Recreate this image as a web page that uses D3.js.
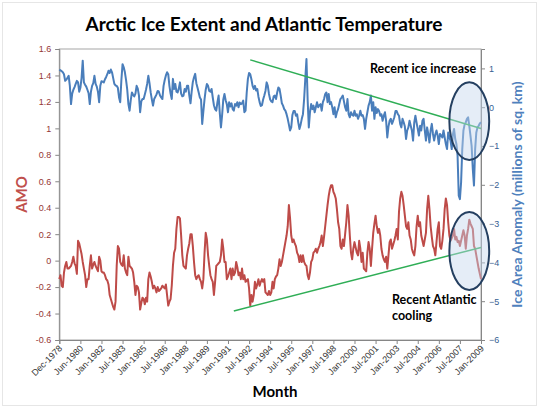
<!DOCTYPE html>
<html>
<head>
<meta charset="utf-8">
<script src="https://cdn.jsdelivr.net/npm/d3@7/dist/d3.min.js"></script>
<style>
    body { margin: 0; background: #fff; }
    #chart svg { font-family: Lato, "Open Sans", sans-serif; display: block; }
</style>
</head>
<body>
<div id="chart"></div>
<script>

// month labels on the category axis (one every 18 months, Dec-1978 .. Jan-2009)
const monthLabels = ['Dec-1978','Jun-1980','Jan-1982','Jul-1983','Jan-1985','Jul-1986','Jan-1988',
    'Jul-1989','Jan-1991','Jul-1992','Jan-1994','Jul-1995','Jan-1997','Jul-1998','Jan-2000',
    'Jul-2001','Jan-2003','Jul-2004','Jan-2006','Jul-2007','Jan-2009'];
const labelStep = 18;

// Ice area anomaly, millions of sq. km (right axis), monthly
const iceAnomaly = [
    0.97, 0.95, 0.93, 0.90, 0.85, 0.68, 0.71, 0.76, 0.81, 0.55,
    0.08, 0.35, 0.45, 0.52, 0.60, 0.68, 0.64, 0.40, 0.50, 0.75,
    1.20, 0.64, 0.58, 0.53, 0.45, 0.36, 0.08, 0.40, 0.55, 0.62,
    0.81, 0.60, 0.53, 0.40, 0.13, 0.55, 0.67, 0.66, 0.64, 0.72,
    0.78, 0.85, 0.94, 0.88, 0.97, 0.90, 0.75, 0.60, 0.56, 0.55,
    0.50, 0.25, 0.13, 0.70, 1.11, 1.03, 0.90, 0.70, 0.45, 0.08,
    -0.09, 0.18, 0.38, 0.32, 0.28, 0.35, 0.55, 0.48, 0.30, -0.13,
    0.15, 0.21, 0.21, 0.33, 0.45, 0.60, 0.81, 0.62, 0.38, 0.20,
    0.04, 0.21, 0.27, 0.33, 0.42, 0.40, 0.30, 0.25, 0.21, 0.55,
    0.70, 0.82, 0.90, 0.85, 0.55, 0.35, 0.21, 0.73, 0.47, 0.60,
    0.40, 0.38, 0.48, 0.64, 0.35, 0.28, 0.30, 0.47, 0.40, 0.55,
    0.55, 0.30, 0.10, 0.40, 0.65, 0.77, 0.86, 0.62, 0.50, 0.38,
    0.25, 0.20, -0.43, -0.10, 0.21, 0.45, 0.60, 0.55, 0.42, 0.40,
    0.47, 0.25, 0.05, -0.05, -0.09, 0.13, 0.30, -0.15, -0.52, -0.20,
    0.20, 0.34, 0.18, 0.08, -0.13, 0.13, 0.02, 0.10, -0.05, -0.09,
    0.08, 0.04, 0.13, 0.00, 0.12, 0.08, 0.10, 0.17, -0.13, -0.09,
    0.38, 0.73, 0.88, 0.85, 0.72, 0.55, 0.47, 0.55, 0.43, 0.47,
    0.27, 0.13, 0.03, 0.05, 0.20, 0.30, 0.42, 0.64, 0.55, 0.34,
    0.20, 0.15, 0.13, 0.28, 0.30, 0.21, 0.38, 0.51, 0.47, 0.30,
    0.10, 0.04, -0.05, -0.09, -0.18, -0.30, -0.45, -0.60, -0.52, -0.20,
    -0.10, -0.10, -0.22, -0.18, -0.39, -0.56, -0.45, -0.30, -0.18, 0.21,
    0.73, 1.24, 0.20, -0.52, -0.13, 0.08, -0.05, 0.04, -0.13, 0.00,
    0.13, 0.00, 0.05, 0.08, -0.09, 0.13, 0.21, 0.34, 0.38, 0.13,
    0.34, 0.08, 0.13, 0.00, -0.18, 0.00, -0.26, -0.13, -0.05, 0.08,
    0.21, 0.25, 0.30, 0.15, 0.00, -0.09, 0.21, -0.18, -0.26, -0.13,
    -0.20, -0.22, -0.09, -0.22, -0.18, -0.30, -0.22, -0.09, -0.22, -0.20,
    -0.30, -0.56, -0.30, -0.13, 0.04, 0.13, 0.30, -0.09, 0.13, -0.30,
    0.00, -0.15, -0.05, -0.10, -0.22, -0.18, -0.35, -0.22, -0.13, -0.35,
    -0.78, -0.50, -0.35, -0.30, -0.43, -0.35, -0.26, -0.10, -0.10, -0.18,
    -0.22, -0.43, -0.52, -0.30, -0.39, -0.50, -0.82, -0.60, -0.52, -0.35,
    -0.48, -0.60, -0.86, -0.40, -0.22, -0.40, -0.56, -0.73, -0.48, -0.60,
    -0.35, -0.30, -0.60, -0.86, -0.52, -0.69, -0.91, -0.60, -0.43, -0.69,
    -0.86, -0.70, -0.60, -0.73, -0.95, -0.69, -0.73, -0.78, -0.60, -0.78,
    -0.95, -1.08, -0.65, -0.78, -0.86, -1.08, -0.70, -0.56, -0.82, -0.95,
    -1.25, -2.28, -2.37, -1.94, -1.08, -0.60, -0.45, -0.39, -0.30, -0.26,
    -0.48, -0.73, -1.00, -1.60, -2.02, -1.08, -0.65, -0.52, -0.48, -0.42,
    -0.39
];

// AMO index (left axis), monthly
const amoIndex = [
    -0.14, -0.11, -0.19, -0.20, -0.09, -0.04, -0.01, -0.06, -0.06, -0.05,
    -0.04, -0.01, 0.03, -0.02, -0.04, -0.10, 0.15, 0.13, 0.09, 0.05,
    -0.01, -0.06, -0.11, -0.20, -0.14, -0.14, -0.04, 0.04, -0.06, -0.03,
    -0.01, -0.04, -0.06, -0.08, 0.03, 0.00, -0.08, -0.09, -0.09, -0.11,
    -0.14, -0.15, -0.18, -0.26, -0.29, -0.32, -0.35, -0.37, -0.31, -0.04,
    0.11, 0.09, -0.01, -0.03, -0.04, 0.04, -0.06, -0.09, -0.11, 0.03,
    -0.04, -0.05, -0.06, -0.09, -0.16, -0.26, -0.19, -0.20, -0.24, -0.37,
    -0.32, -0.28, -0.29, -0.33, -0.28, -0.31, -0.14, -0.09, -0.12, -0.16,
    -0.21, -0.19, -0.21, -0.24, -0.20, -0.23, -0.22, -0.21, -0.19, -0.20,
    -0.21, -0.18, -0.26, -0.34, -0.31, -0.29, -0.19, -0.04, 0.06, 0.09,
    0.24, 0.33, 0.33, 0.32, 0.19, 0.04, -0.04, -0.05, -0.06, 0.04,
    0.09, 0.13, 0.20, 0.20, 0.11, -0.01, -0.11, -0.14, -0.12, -0.11,
    -0.14, -0.16, -0.21, -0.14, 0.06, 0.21, 0.16, 0.04, -0.04, -0.11,
    -0.14, -0.16, -0.26, -0.16, -0.04, -0.03, -0.02, -0.01, 0.04, 0.16,
    0.09, -0.01, -0.01, -0.14, -0.12, -0.09, -0.06, -0.14, -0.06, -0.11,
    -0.09, -0.01, -0.05, -0.11, -0.09, -0.14, -0.06, -0.14, -0.11, -0.16,
    -0.15, -0.14, -0.21, -0.34, -0.26, -0.31, -0.26, -0.16, -0.21, -0.18,
    -0.14, -0.19, -0.16, -0.14, -0.16, -0.14, -0.24, -0.25, -0.26, -0.23,
    -0.26, -0.24, -0.16, -0.21, -0.14, -0.12, -0.11, -0.06, 0.01, -0.04,
    -0.01, 0.04, 0.09, 0.14, 0.19, 0.26, 0.42, 0.32, 0.19, 0.14,
    0.16, 0.13, 0.11, 0.06, 0.04, -0.01, 0.04, -0.01, 0.04, -0.01,
    -0.03, -0.04, -0.11, -0.14, -0.09, -0.01, 0.01, 0.06, 0.07, 0.09,
    0.06, 0.09, 0.11, 0.14, 0.19, 0.11, 0.18, 0.26, 0.34, 0.42,
    0.49, 0.54, 0.57, 0.57, 0.52, 0.50, 0.47, 0.39, 0.29, 0.24,
    0.11, 0.09, 0.16, 0.11, 0.20, 0.29, 0.42, 0.34, 0.19, 0.06,
    0.01, 0.09, 0.14, 0.10, 0.06, 0.04, 0.15, 0.09, -0.01, 0.06,
    -0.06, -0.07, -0.08, 0.06, 0.14, 0.09, -0.04, 0.09, 0.21, 0.28,
    0.34, 0.26, 0.21, 0.24, 0.19, 0.09, 0.04, 0.01, -0.01, 0.03,
    -0.06, 0.04, 0.14, 0.16, 0.09, 0.12, 0.15, 0.19, 0.24, 0.16,
    0.37, 0.47, 0.52, 0.49, 0.42, 0.34, 0.26, 0.24, 0.29, 0.19,
    0.16, 0.09, 0.06, 0.04, 0.11, 0.26, 0.34, 0.26, 0.29, 0.19,
    0.15, 0.11, 0.16, 0.21, 0.39, 0.49, 0.39, 0.26, 0.18, 0.11,
    0.09, 0.04, 0.14, 0.24, 0.29, 0.11, 0.09, 0.15, 0.24, 0.39,
    0.47, 0.42, 0.29, 0.19, 0.15, 0.17, 0.19, 0.24, 0.16, 0.18,
    0.14, 0.15, 0.11, 0.15, 0.19, 0.23, 0.19, 0.09, 0.19, 0.24,
    0.31, 0.28, 0.26, 0.24, 0.11, 0.09, 0.04, -0.01, -0.06, -0.10,
    -0.14
];

// axis ticks
const amoTicks = [-0.6, -0.4, -0.2, 0, 0.2, 0.4, 0.6, 0.8, 1, 1.2, 1.4, 1.6];
const iceTicks = [-6, -5, -4, -3, -2, -1, 0, 1];

// hand drawn annotations, in data units (month index, value)
const iceTrend = [[163, 1.22], [360, -0.55]];
const amoTrend = [[149, -0.38], [360, 0.10]];
const iceCircle = {month: 350, value: -0.36, rMonths: 17, rValue: 1.0};
const amoCircle = {month: 350, value: 0.073, rMonths: 17, rValue: 0.295};


class IceAmoVis {

    constructor(parentElement) {
        this.parentElement = parentElement;
        this.initVis();
    }

    initVis() {
        let vis = this;

        vis.width = 540;
        vis.height = 409;
        vis.plot = {left: 59.3, right: 481, top: 49, bottom: 340};

        vis.svg = d3.select('#' + vis.parentElement).append('svg')
            .attr('width', vis.width)
            .attr('height', vis.height);

        // faint slide frame
        vis.svg.append('rect')
            .attr('x', 2.5).attr('y', 2.5)
            .attr('width', 534).attr('height', 403)
            .attr('fill', 'none')
            .attr('stroke', '#e6e6e6');

        // scales
        vis.x = d3.scaleLinear()
            .domain([0, iceAnomaly.length - 1])
            .range([vis.plot.left, vis.plot.right]);
        vis.yAmo = d3.scaleLinear()
            .domain([-0.6, 1.6])
            .range([vis.plot.bottom, vis.plot.top]);
        vis.yIce = d3.scaleLinear()
            .domain([-6, 1.5])
            .range([vis.plot.bottom, vis.plot.top]);

        // plot area border
        vis.svg.append('rect')
            .attr('x', vis.plot.left).attr('y', vis.plot.top)
            .attr('width', vis.plot.right - vis.plot.left)
            .attr('height', vis.plot.bottom - vis.plot.top)
            .attr('fill', 'none')
            .attr('stroke', '#a6a6a6')
            .attr('stroke-width', 1);

        // title
        vis.svg.append('text')
            .attr('x', 264).attr('y', 31)
            .attr('text-anchor', 'middle')
            .attr('font-size', '19px')
            .attr('font-weight', 'bold')
            .style('fill', '#000')
            .text('Arctic Ice Extent and Atlantic Temperature');

        vis.wrangleData();
    }

    wrangleData() {
        let vis = this;
        vis.iceData = iceAnomaly.map((v, i) => ({month: i, value: v}));
        vis.amoData = amoIndex.map((v, i) => ({month: i, value: v}));
        vis.updateVis();
    }

    updateVis() {
        let vis = this;

        // == AXES == //
        let leftAxis = d3.axisLeft(vis.yAmo)
            .tickValues(amoTicks)
            .tickSize(4)
            .tickPadding(4)
            .tickFormat(d => String(+d.toFixed(1)));
        let gLeft = vis.svg.append('g')
            .attr('class', 'axis axis-left')
            .attr('transform', `translate(${vis.plot.left},0)`)
            .call(leftAxis);
        gLeft.selectAll('text').attr('font-size', '9px').style('fill', '#953735');

        let rightAxis = d3.axisRight(vis.yIce)
            .tickValues(iceTicks)
            .tickSize(4)
            .tickPadding(4)
            .tickFormat(d3.format('d'));
        let gRight = vis.svg.append('g')
            .attr('class', 'axis axis-right')
            .attr('transform', `translate(${vis.plot.right},0)`)
            .call(rightAxis);
        gRight.selectAll('text').attr('font-size', '9px').style('fill', '#376092');

        let bottomAxis = d3.axisBottom(vis.x)
            .tickValues(monthLabels.map((d, i) => i * labelStep))
            .tickSize(4)
            .tickFormat((d, i) => monthLabels[i]);
        let gBottom = vis.svg.append('g')
            .attr('class', 'axis axis-bottom')
            .attr('transform', `translate(0,${vis.plot.bottom})`)
            .call(bottomAxis);
        gBottom.selectAll('text')
            .attr('font-size', '9px')
            .style('fill', '#333')
            .attr('text-anchor', 'end')
            .attr('dx', null).attr('dy', null)
            .attr('y', 0)
            .attr('transform', 'translate(3,9) rotate(-45)');

        vis.svg.selectAll('.axis path.domain, .axis line')
            .attr('stroke', '#868686');

        // axis titles
        vis.svg.append('text')
            .attr('transform', `translate(27,${(vis.plot.top + vis.plot.bottom) / 2}) rotate(-90)`)
            .attr('text-anchor', 'middle')
            .attr('font-size', '15px')
            .attr('font-weight', 'bold')
            .style('fill', '#c0504d')
            .text('AMO');

        vis.svg.append('text')
            .attr('transform', `translate(522,${(vis.plot.top + vis.plot.bottom) / 2}) rotate(-90)`)
            .attr('text-anchor', 'middle')
            .attr('font-size', '14px')
            .attr('font-weight', 'bold')
            .style('fill', '#4f81bd')
            .text('Ice Area Anomaly (millions of  sq. km)');

        vis.svg.append('text')
            .attr('x', 275).attr('y', 397)
            .attr('text-anchor', 'middle')
            .attr('font-size', '15px')
            .attr('font-weight', 'bold')
            .style('fill', '#000')
            .text('Month');

        // == LINES == //
        let iceLine = d3.line()
            .x(d => vis.x(d.month))
            .y(d => vis.yIce(d.value));
        let amoLine = d3.line()
            .x(d => vis.x(d.month))
            .y(d => vis.yAmo(d.value));

        vis.svg.append('path')
            .datum(vis.iceData)
            .attr('class', 'line ice')
            .attr('fill', 'none')
            .attr('stroke', '#4a7ebb')
            .attr('stroke-width', 2)
            .attr('stroke-linejoin', 'round')
            .attr('d', iceLine);

        vis.svg.append('path')
            .datum(vis.amoData)
            .attr('class', 'line amo')
            .attr('fill', 'none')
            .attr('stroke', '#be4b48')
            .attr('stroke-width', 2)
            .attr('stroke-linejoin', 'round')
            .attr('d', amoLine);

        // == ANNOTATIONS == //
        // trend lines
        vis.svg.append('line')
            .attr('x1', vis.x(iceTrend[0][0])).attr('y1', vis.yIce(iceTrend[0][1]))
            .attr('x2', vis.x(iceTrend[1][0])).attr('y2', vis.yIce(iceTrend[1][1]))
            .attr('stroke', '#2fae56').attr('stroke-width', 1.5);
        vis.svg.append('line')
            .attr('x1', vis.x(amoTrend[0][0])).attr('y1', vis.yAmo(amoTrend[0][1]))
            .attr('x2', vis.x(amoTrend[1][0])).attr('y2', vis.yAmo(amoTrend[1][1]))
            .attr('stroke', '#2fae56').attr('stroke-width', 1.5);

        // circles round the recent months
        let circles = [
            {c: iceCircle, y: vis.yIce},
            {c: amoCircle, y: vis.yAmo}
        ];
        vis.svg.selectAll('.highlight')
            .data(circles)
            .enter()
            .append('ellipse')
            .attr('class', 'highlight')
            .attr('cx', d => vis.x(d.c.month))
            .attr('cy', d => d.y(d.c.value))
            .attr('rx', d => vis.x(d.c.rMonths) - vis.x(0))
            .attr('ry', d => d.y(0) - d.y(d.c.rValue))
            .attr('fill', '#c6d6ee')
            .attr('fill-opacity', 0.45)
            .attr('stroke', '#243f60')
            .attr('stroke-width', 2);

        // notes
        vis.svg.append('text')
            .attr('x', 370).attr('y', 73)
            .attr('font-size', '12.5px')
            .attr('font-weight', 'bold')
            .style('fill', '#000')
            .text('Recent ice increase');

        let note = vis.svg.append('text')
            .attr('x', 392).attr('y', 304)
            .attr('font-size', '12.5px')
            .attr('font-weight', 'bold')
            .style('fill', '#000');
        note.append('tspan').attr('x', 392).text('Recent Atlantic');
        note.append('tspan').attr('x', 392).attr('dy', 16).text('cooling');
    }
}

new IceAmoVis('chart');

</script>
</body>
</html>
